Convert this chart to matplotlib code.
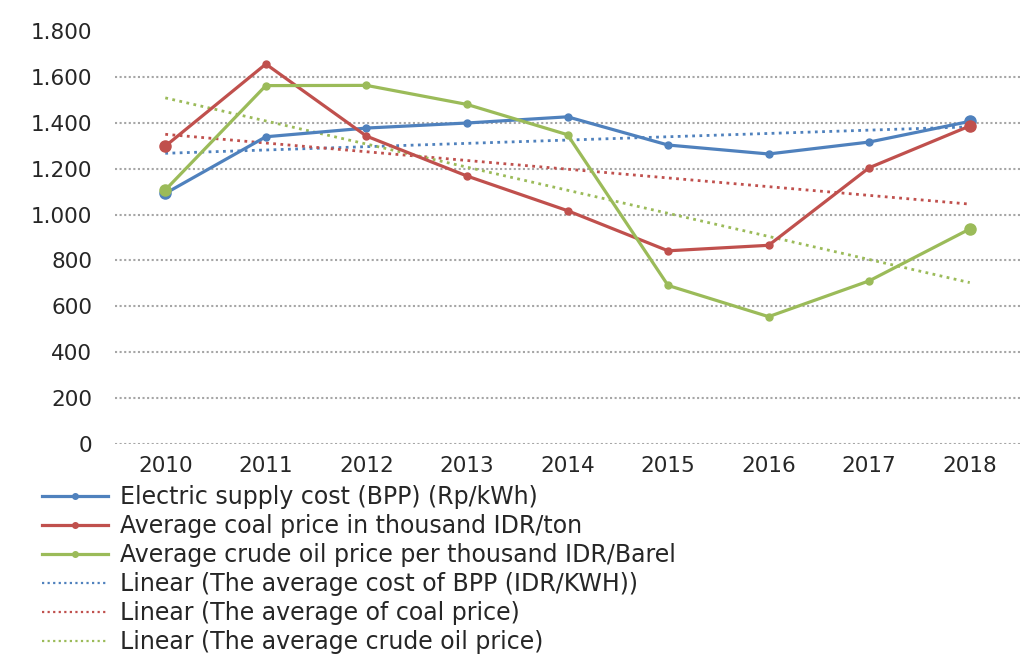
import numpy as np
import matplotlib
matplotlib.use("Agg")
import matplotlib.pyplot as plt
from matplotlib.lines import Line2D

years = ['2010', '2011', '2012', '2013', '2014', '2015', '2016', '2017', '2018']
bpp = [1092, 1339, 1377, 1399, 1426, 1303, 1264, 1316, 1406]
coal = [1298, 1656, 1342, 1168, 1017, 842, 866, 1204, 1386]
oil = [1107, 1562, 1563, 1480, 1348, 691, 555, 711, 937]
yticks = [0, 200, 400, 600, 800, 1000, 1200, 1400, 1600, 1800]

labels = ['Electric supply cost (BPP) (Rp/kWh)',
          'Average coal price in thousand IDR/ton',
          'Average crude oil price per thousand IDR/Barel',
          'Linear (The average cost of BPP (IDR/KWH))',
          'Linear (The average of coal price)',
          'Linear (The average crude oil price)']

blue, red, green = '#4F81BD', '#C0504D', '#9BBB59'
txt = '#262626'

plt.rcParams['font.family'] = ['DejaVu Sans']
fs = 15.5
lfs = 17.0

dpi = 100
fig = plt.figure(figsize=(1026 / dpi, 657 / dpi), dpi=dpi)
ax = fig.add_axes([115 / 1026, 1 - 444 / 657, 905 / 1026, 413 / 657])

x = np.arange(len(years))

# gridlines (no line at the top value)
for v in yticks[:-1]:
    ax.axhline(v, color='#A6A6A6', lw=1.5, ls=(0, (1, 1.2)), zorder=1)

series = [(bpp, blue), (coal, red), (oil, green)]
# linear trend lines
for vals, c in series:
    k, b = np.polyfit(x, vals, 1)
    ax.plot(x, k * x + b, color=c, lw=2.0, ls=(0, (1, 1.6)), zorder=2)

for vals, c in series:
    ax.plot(x, vals, color=c, lw=2.3, marker='o', ms=5, zorder=3)
    ax.plot(x[[0, -1]], np.array(vals)[[0, -1]], ls='none', marker='o', ms=8, color=c, zorder=3)

ax.set_xlim(-0.5, len(years) - 0.5)
ax.set_ylim(0, 1800)
ax.set_xticks(x)
ax.set_xticklabels(years)
ax.set_yticks(yticks)
ax.set_yticklabels([f'{v:,}'.replace(',', '.') for v in yticks])
ax.tick_params(length=0, labelsize=fs, colors=txt)
ax.tick_params(axis='x', pad=9)
ax.tick_params(axis='y', pad=16.5)
for s in ax.spines.values():
    s.set_visible(False)

handles = [Line2D([], [], color=blue, lw=2.3, marker='o', ms=4),
           Line2D([], [], color=red, lw=2.3, marker='o', ms=4),
           Line2D([], [], color=green, lw=2.3, marker='o', ms=4),
           Line2D([], [], color=blue, lw=1.6, ls=(0, (1, 1.5))),
           Line2D([], [], color=red, lw=1.6, ls=(0, (1, 1.5))),
           Line2D([], [], color=green, lw=1.6, ls=(0, (1, 1.5)))]
leg = fig.legend(handles, labels, loc='upper left', bbox_to_anchor=(42 / 1026, 1 - 485 / 657),
                 frameon=False, fontsize=lfs, handlelength=2.8, handletextpad=0.5,
                 labelspacing=0.21, borderpad=0, borderaxespad=0)
for t in leg.get_texts():
    t.set_color(txt)

plt.savefig('out.png', dpi=dpi)
